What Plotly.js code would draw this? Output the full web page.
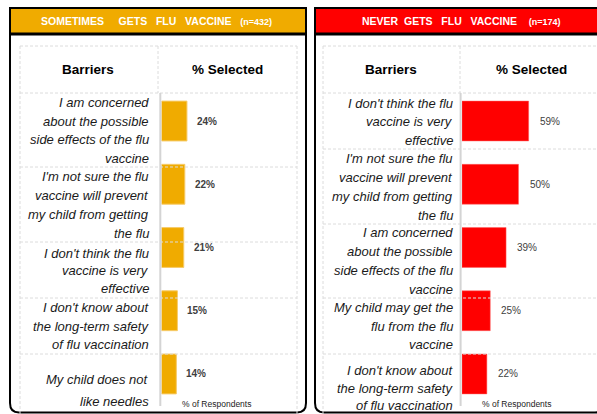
<!DOCTYPE html>
<html>
<head>
<meta charset="utf-8">
<script src="https://cdn.plot.ly/plotly-3.0.1.min.js"></script>
<style>html,body{margin:0;padding:0;background:#fff;}#chart{width:597px;height:414px;}</style>
</head>
<body>
<div id="chart"></div>
<script>
// ---- data ----
const leftTitle = "SOMETIMES&nbsp;&nbsp;&nbsp;&nbsp; GETS&nbsp;&nbsp; FLU&nbsp;&nbsp; VACCINE";
const leftN = "(n=432)";
const rightTitle = "NEVER&nbsp; GETS&nbsp;&nbsp; FLU&nbsp;&nbsp; VACCINE";
const rightN = "(n=174)";
const colHeaders = ["Barriers", "% Selected"];
const axisNote = "% of Respondents";
const leftCategories = [
  "I am concerned<br>about the possible<br>side effects of the flu<br>vaccine",
  "I'm not sure the flu<br>vaccine will prevent<br>my child from getting<br>the flu",
  "I don't think the flu<br>vaccine is very<br>effective",
  "I don't know about<br>the long-term safety<br>of flu vaccination",
  "My child does not<br>like needles"
];
const leftValues = [24, 22, 21, 15, 14];
const rightCategories = [
  "I don't think the flu<br>vaccine is very<br>effective",
  "I'm not sure the flu<br>vaccine will prevent<br>my child from getting<br>the flu",
  "I am concerned<br>about the possible<br>side effects of the flu<br>vaccine",
  "My child may get the<br>flu from the flu<br>vaccine",
  "I don't know about<br>the long-term safety<br>of flu vaccination"
];
const rightValues = [59, 50, 39, 25, 22];

// ---- layout helpers (pixel -> paper) ----
const W = 597, H = 414;
const fx = x => x / W;
const fy = y => 1 - y / H;
const FONT = "Liberation Sans, Arial, sans-serif";
const GOLD = "#F0AB00", RED = "#FF0000";

const traces = [
  {type: "bar", orientation: "h", x: leftValues, y: leftCategories, xaxis: "x", yaxis: "y",
   width: 0.63, marker: {color: GOLD, line: {color: "#F6CB6A", width: 1}}, hoverinfo: "none"},
  {type: "bar", orientation: "h", x: rightValues, y: rightCategories, xaxis: "x2", yaxis: "y2",
   width: 0.63, marker: {color: RED, line: {color: "#FF6060", width: 0.5}}, hoverinfo: "none"}
];

const yDom = [fy(405.6), fy(89.4)];
const shapes = [];
const annotations = [];

function line(x0, y0, x1, y1, color, width, dash, layer) {
  shapes.push({type: "line", xref: "paper", yref: "paper", x0: fx(x0), y0: fy(y0), x1: fx(x1), y1: fy(y1),
    line: {color: color, width: width, dash: dash || "solid"}, layer: layer || "above"});
}
function pathPx(pts) {
  return pts.replace(/(-?\d+(?:\.\d+)?),(-?\d+(?:\.\d+)?)/g, (m, a, b) => fx(+a) + "," + fy(+b));
}

// panel frames
[[10, 306], [315, 604]].forEach(([a, b]) => {
  shapes.push({type: "path", xref: "paper", yref: "paper", layer: "above",
    path: pathPx(`M ${a},34 L ${a},403 Q ${a},412.5 ${a+9},412.5 L ${b-9},412.5 Q ${b},412.5 ${b},403 L ${b},34`),
    line: {color: "#000", width: 2}});
});
// header bars
shapes.push({type: "rect", xref: "paper", yref: "paper", x0: fx(10), x1: fx(306), y0: fy(34), y1: fy(8),
  fillcolor: GOLD, line: {color: "#000", width: 2}, layer: "below"});
shapes.push({type: "rect", xref: "paper", yref: "paper", x0: fx(315), x1: fx(604), y0: fy(34), y1: fy(8),
  fillcolor: RED, line: {color: "#000", width: 2}, layer: "below"});
line(10, 34, 306, 34, "#000", 3);
line(315, 34, 604, 34, "#000", 3);

// dashed table grids
const DG = "#dcdcdc", DS = "3px,2px";
function table(xl, xd, xr, rows, layer) {
  line(xl, 46, xr, 46, DG, 1, DS, layer);
  line(xl, 46, xl, 414, DG, 1, DS, layer);
  line(xr, 46, xr, 414, DG, 1, DS, layer);
  line(xd, 46, xd, 93, DG, 1, DS, layer);
  rows.forEach(r => line(xl, r, xr, r, DG, 1, DS, layer));
}
table(20, 158, 297, [93, 167, 242, 298, 354], "above");
table(323, 460, 600, [93, 149, 224, 298, 354], "above");
// axis lines
line(160.3, 93, 160.3, 406, "#d4d4d4", 2);
line(460.6, 93, 460.6, 406, "#d4d4d4", 2);

// header titles
annotations.push({xref: "paper", yref: "paper", x: fx(156.5), y: fy(21), xanchor: "center", yanchor: "middle", showarrow: false,
  text: "<b>" + leftTitle + "&nbsp;&nbsp; <span style='font-size:9px'>" + leftN + "</span></b>",
  font: {family: FONT, size: 10.5, color: "#fff"}});
annotations.push({xref: "paper", yref: "paper", x: fx(461), y: fy(21), xanchor: "center", yanchor: "middle", showarrow: false,
  text: "<b>" + rightTitle + "&nbsp;&nbsp;&nbsp; <span style='font-size:9px'>" + rightN + "</span></b>",
  font: {family: FONT, size: 10.5, color: "#fff"}});
// column headers
[[88, 227], [391, 531]].forEach(([a, b]) => {
  annotations.push({xref: "paper", yref: "paper", x: fx(a), y: fy(70), xanchor: "center", yanchor: "middle", showarrow: false,
    text: "<b>" + colHeaders[0] + "</b>", font: {family: FONT, size: 13.5, color: "#000"}});
  annotations.push({xref: "paper", yref: "paper", x: fx(b), y: fy(70), xanchor: "center", yanchor: "middle", showarrow: false,
    text: "<b>" + colHeaders[1] + "</b>", font: {family: FONT, size: 13.5, color: "#000"}});
});
// category labels, line by line in the table cells
function labels(cats, xr, centers, spacings) {
  cats.forEach((c, i) => {
    const ls = c.split("<br>");
    const sp = spacings[i];
    ls.forEach((t, j) => {
      const yc = centers[i] + (j - (ls.length - 1) / 2) * sp;
      annotations.push({xref: "paper", yref: "paper", x: fx(xr), y: fy(yc), xanchor: "right", yanchor: "middle",
        showarrow: false, text: "<i>" + t + "</i>", font: {family: FONT, size: 13, color: "#1a1a1a"}});
    });
  });
}
labels(leftCategories, 151, [130.5, 205, 270.5, 326, 390], [18.7, 18.7, 17.5, 18.5, 22]);
labels(rightCategories, 455, [122, 187, 261, 326, 388], [18.7, 18.7, 18.7, 18.5, 17.5]);

// value labels (through the bar axes)
leftValues.forEach((v, i) => annotations.push({xref: "x", yref: "y", x: v, y: leftCategories[i], xanchor: "left", xshift: 8,
  showarrow: false, text: "<b>" + v + "%</b>", font: {family: FONT, size: 10, color: "#404040"}}));
rightValues.forEach((v, i) => annotations.push({xref: "x2", yref: "y2", x: v, y: rightCategories[i], xanchor: "left", xshift: 9,
  showarrow: false, text: v + "%", font: {family: FONT, size: 10, color: "#404040"}}));
// axis notes
annotations.push({xref: "paper", yref: "paper", x: fx(216), y: fy(404), xanchor: "center", yanchor: "middle", showarrow: false,
  text: axisNote, font: {family: FONT, size: 8.5, color: "#222"}});
annotations.push({xref: "paper", yref: "paper", x: fx(516), y: fy(404), xanchor: "center", yanchor: "middle", showarrow: false,
  text: axisNote, font: {family: FONT, size: 8.5, color: "#222"}});

const hiddenX = {visible: false, fixedrange: true};
const layout = {
  width: W, height: H, margin: {l: 0, r: 0, t: 0, b: 0},
  paper_bgcolor: "#fff", plot_bgcolor: "rgba(0,0,0,0)", showlegend: false,
  xaxis: Object.assign({domain: [fx(161.5), fx(297)], range: [0, (297 - 161.5) / 1.06], anchor: "y"}, hiddenX),
  yaxis: {domain: yDom, type: "category", range: [4.5, -0.5], visible: false, fixedrange: true, anchor: "x"},
  xaxis2: Object.assign({domain: [fx(462), fx(597)], range: [0, (597 - 462) / 1.13], anchor: "y2"}, hiddenX),
  yaxis2: {domain: yDom, type: "category", range: [4.5, -0.5], visible: false, fixedrange: true, anchor: "x2"},
  shapes: shapes, annotations: annotations, bargap: 0
};
Plotly.newPlot("chart", traces, layout, {staticPlot: true, displayModeBar: false});
</script>
</body>
</html>
